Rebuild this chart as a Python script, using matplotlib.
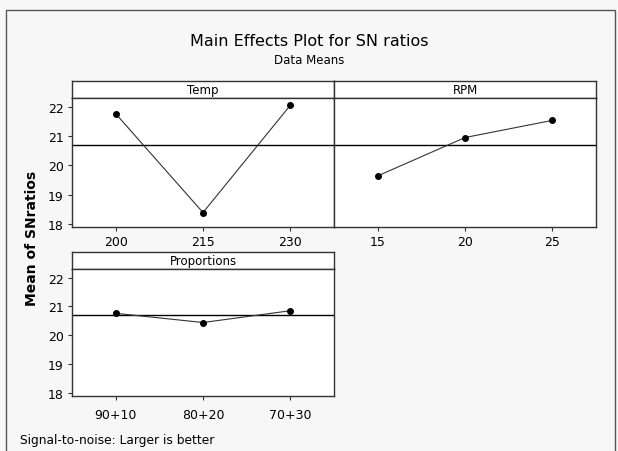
import matplotlib
matplotlib.use("Agg")
import matplotlib.pyplot as plt
from matplotlib.patches import Rectangle

# data
temp_levels = ["200", "215", "230"]
temp_sn = [21.78, 18.38, 22.07]
rpm_levels = ["15", "20", "25"]
rpm_sn = [19.64, 20.96, 21.55]
prop_levels = ["90+10", "80+20", "70+30"]
prop_sn = [20.76, 20.44, 20.85]
grand_mean = 20.69
yticks = [18, 19, 20, 21, 22]

W, H = 618, 452
fig = plt.figure(figsize=(W / 100, H / 100), dpi=100, facecolor="#f7f7f7")
plt.rcParams['font.family'] = ['DejaVu Sans']


def box(l, t, r, b):
    # pixel box -> figure fraction
    return [l / W, 1 - b / H, (r - l) / W, (b - t) / H]


fig.patches.append(Rectangle((6 / W, -0.05), 609 / W, 1.05 - 11 / H,
                             transform=fig.transFigure, fill=False,
                             edgecolor="#555555", lw=1.0))

fig.text(0.5, 1 - 42 / H, "Main Effects Plot for SN ratios", ha="center",
         va="center", fontsize=11.5)
fig.text(0.5, 1 - 61 / H, "Data Means", ha="center", va="center", fontsize=8.5)
fig.text(32 / W, 1 - 238 / H, "Mean of SNratios", rotation=90, ha="center",
         va="center", fontsize=10, fontweight="bold")
fig.text(20 / W, 1 - 441 / H, "Signal-to-noise: Larger is better",
         ha="left", va="center", fontsize=8.8)

panels = [
    ("Temp", temp_levels, temp_sn, (72, 82, 334, 99, 227.5), True, 3),
    ("RPM", rpm_levels, rpm_sn, (334, 82, 596, 99, 227.5), False, 3),
    ("Proportions", prop_levels, prop_sn, (72, 252.5, 334, 269.5, 396.5), True, 6),
]

for name, levels, vals, (l, st, r, t, b), show_y, xpad in panels:
    strip = fig.add_axes(box(l, st, r, t))
    strip.set_xticks([])
    strip.set_yticks([])
    strip.set_facecolor("white")
    strip.text(0.5, 0.5, name, ha="center", va="center", fontsize=8.5,
               transform=strip.transAxes)
    for s in strip.spines.values():
        s.set_color("#333333")
        s.set_linewidth(1.0)

    ax = fig.add_axes(box(l, t, r, b))
    ax.set_facecolor("white")
    xs = range(len(vals))
    ax.axhline(grand_mean, color="black", lw=1.0, zorder=1)
    ax.plot(xs, vals, color="#333333", lw=0.8, marker="o", ms=4,
            mfc="black", mec="black", zorder=2)
    ax.set_xlim(-0.5, len(vals) - 0.5)
    ax.set_ylim(17.9, 22.32)
    ax.set_xticks(list(xs))
    ax.set_xticklabels(levels, fontsize=9)
    ax.set_yticks(yticks)
    if show_y:
        ax.set_yticklabels([str(v) for v in yticks], fontsize=9)
    else:
        ax.tick_params(axis="y", left=False, labelleft=False)
    ax.tick_params(length=3, width=0.8, color="#333333", pad=3)
    ax.tick_params(axis="x", pad=xpad)
    for s in ax.spines.values():
        s.set_color("#333333")
        s.set_linewidth(1.0)

fig.savefig("out.png", dpi=100, facecolor=fig.get_facecolor())
